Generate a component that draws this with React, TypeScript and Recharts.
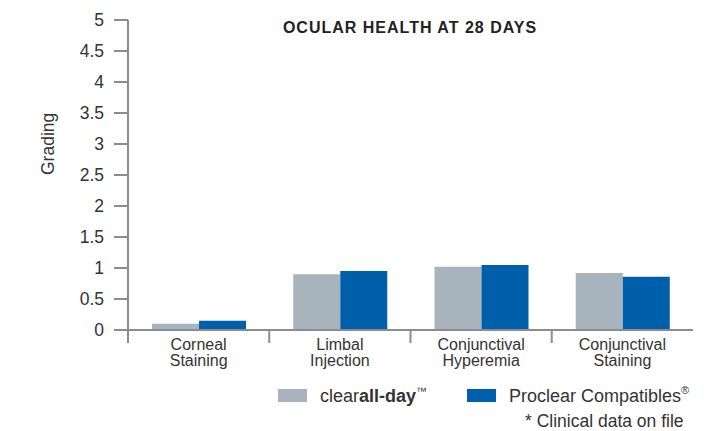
import React from 'react';
import { BarChart, Bar, XAxis, YAxis } from 'recharts';

const categories = ['Corneal\nStaining', 'Limbal\nInjection', 'Conjunctival\nHyperemia', 'Conjunctival\nStaining'];
const clearAllDay = [0.1, 0.9, 1.02, 0.92];
const proclear = [0.15, 0.95, 1.05, 0.86];
const yTicks = [0, 0.5, 1, 1.5, 2, 2.5, 3, 3.5, 4, 4.5, 5];

const data = categories.map((c, i) => ({ name: c, a: clearAllDay[i], b: proclear[i] }));

const FONT = '"Liberation Sans", Arial, Helvetica, sans-serif';
const GRAY = '#a7b4bd';
const BLUE = '#005faa';
const AXIS = '#8c8c8c';
const TEXT = '#333333';

const CatTick = (props: any) => {
  const { x, y, payload, width, visibleTicksCount } = props;
  const half = width / visibleTicksCount / 2;
  const bx = x - half;
  const lines = String(payload.value).split('\n');
  return (
    <g>
      <line x1={bx} y1={y} x2={bx} y2={y + 13} stroke={AXIS} strokeWidth={2} />
      <text x={x} y={y} textAnchor="middle" fill={TEXT} fontSize={16} fontFamily={FONT}>
        {lines.map((l, i) => (
          <tspan key={i} x={x} dy={i === 0 ? 20 : 16}>{l}</tspan>
        ))}
      </text>
    </g>
  );
};

export default function App() {
  return (
    <div style={{ position: 'absolute', left: 0, top: 0, width: 724, height: 431, background: '#fff' }}>
      <BarChart
        width={724}
        height={431}
        data={data}
        margin={{ top: 20, right: 31, left: 10, bottom: 61 }}
        barCategoryGap="17%"
        barGap={0}
      >
        <XAxis
          dataKey="name"
          height={40}
          axisLine={{ stroke: AXIS, strokeWidth: 2 }}
          tickLine={false}
          tickSize={0}
          tickMargin={0}
          interval={0}
          tick={<CatTick />}
        />
        <YAxis
          width={118}
          domain={[0, 5]}
          ticks={yTicks}
          interval={0}
          tickSize={14}
          tickMargin={10}
          axisLine={{ stroke: AXIS, strokeWidth: 2 }}
          tickLine={{ stroke: AXIS, strokeWidth: 2 }}
          tick={{ fill: TEXT, fontSize: 17.5, fontFamily: FONT }}
          label={{ value: 'Grading', angle: -90, position: 'insideLeft', offset: 38, fill: TEXT, fontSize: 17.5, fontFamily: FONT }}
        />
        <Bar dataKey="a" fill={GRAY} isAnimationActive={false} />
        <Bar dataKey="b" fill={BLUE} isAnimationActive={false} />
      </BarChart>
      <svg width={724} height={431} style={{ position: 'absolute', left: 0, top: 0, pointerEvents: 'none' }}>
        <text x={410} y={33} textAnchor="middle" fontFamily={FONT} fontSize={16} fontWeight="bold" letterSpacing={1} fill="#222">
          OCULAR HEALTH AT 28 DAYS
        </text>
        <rect x={278} y={389} width={29} height={13} fill={GRAY} />
        <text x={320} y={402} fontFamily={FONT} fontSize={18} fill={TEXT}>
          clear<tspan fontWeight="bold">all-day</tspan>
          <tspan fontSize={11} dy={-7}>™</tspan>
        </text>
        <rect x={467} y={389} width={29} height={13} fill={BLUE} />
        <text x={509} y={402} fontFamily={FONT} fontSize={18} fill={TEXT}>
          Proclear Compatibles<tspan fontSize={11} dy={-8}>®</tspan>
        </text>
        <text x={525} y={427} fontFamily={FONT} fontSize={17.5} fill={TEXT}>
          * Clinical data on file
        </text>
      </svg>
    </div>
  );
}
